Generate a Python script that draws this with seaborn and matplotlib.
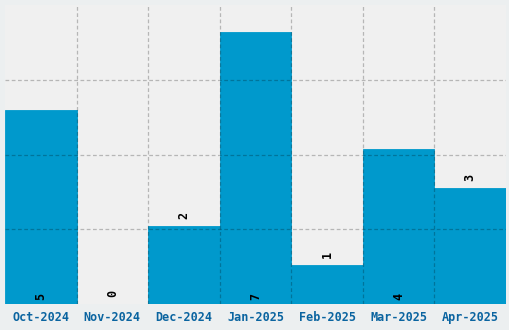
import matplotlib
matplotlib.use("Agg")
import matplotlib.pyplot as plt
import seaborn as sns
import numpy as np
import pandas as pd

months = ["Oct-2024", "Nov-2024", "Dec-2024", "Jan-2025", "Feb-2025", "Mar-2025", "Apr-2025"]
counts = [5, 0, 2, 7, 1, 4, 3]
y_max = 7.7

sns.set_theme(style="white")
plt.rcParams['font.family'] = ['DejaVu Sans Mono', 'DejaVu Sans']

df = pd.DataFrame({"month": months, "count": counts})

fig = plt.figure(figsize=(5.1, 3.3), dpi=100, facecolor="#ECEFF0")
ax = fig.add_axes([5/510, 1 - 304/330, 501/510, 299/330])
ax.set_facecolor("#F0F0F0")

sns.barplot(data=df, x="month", y="count", color="#0099CC", saturation=1,
            width=1.0, ax=ax, edgecolor="#0099CC", linewidth=0.6)

ax.set_xlim(-0.5, len(months) - 0.5)
ax.set_ylim(0, y_max)
ax.set_yticks(np.linspace(0, y_max, 5)[1:-1])
ax.set_yticklabels([])
ax.set_xticks(np.arange(len(months) - 1) + 0.5, minor=True)
ax.set_xlabel("")
ax.set_ylabel("")
ax.tick_params(axis="both", which="both", length=0)
ax.tick_params(axis="x", which="major", pad=5, labelsize=8.5, labelcolor="#0A64A0")
for lbl in ax.get_xticklabels():
    lbl.set_fontweight("bold")
for s in ax.spines.values():
    s.set_visible(False)

ax.set_axisbelow(False)
ax.grid(axis="y", which="major", color="black", alpha=0.24, linestyle=(0, (3, 2)), linewidth=0.9)
ax.grid(axis="x", which="minor", color="black", alpha=0.24, linestyle=(0, (3, 2)), linewidth=0.9)
ax.grid(axis="x", which="major", visible=False)

for i, v in enumerate(counts):
    if v >= 4:
        ax.annotate(str(v), (i, 0), xytext=(0, 4), textcoords="offset pixels",
                    rotation=90, ha="center", va="bottom", fontsize=8.5,
                    fontweight="bold", color="black")
    else:
        ax.annotate(str(v), (i, v), xytext=(0, 7), textcoords="offset pixels",
                    rotation=90, ha="center", va="bottom", fontsize=8.5,
                    fontweight="bold", color="black")

fig.savefig("out.png", dpi=100, facecolor=fig.get_facecolor())
